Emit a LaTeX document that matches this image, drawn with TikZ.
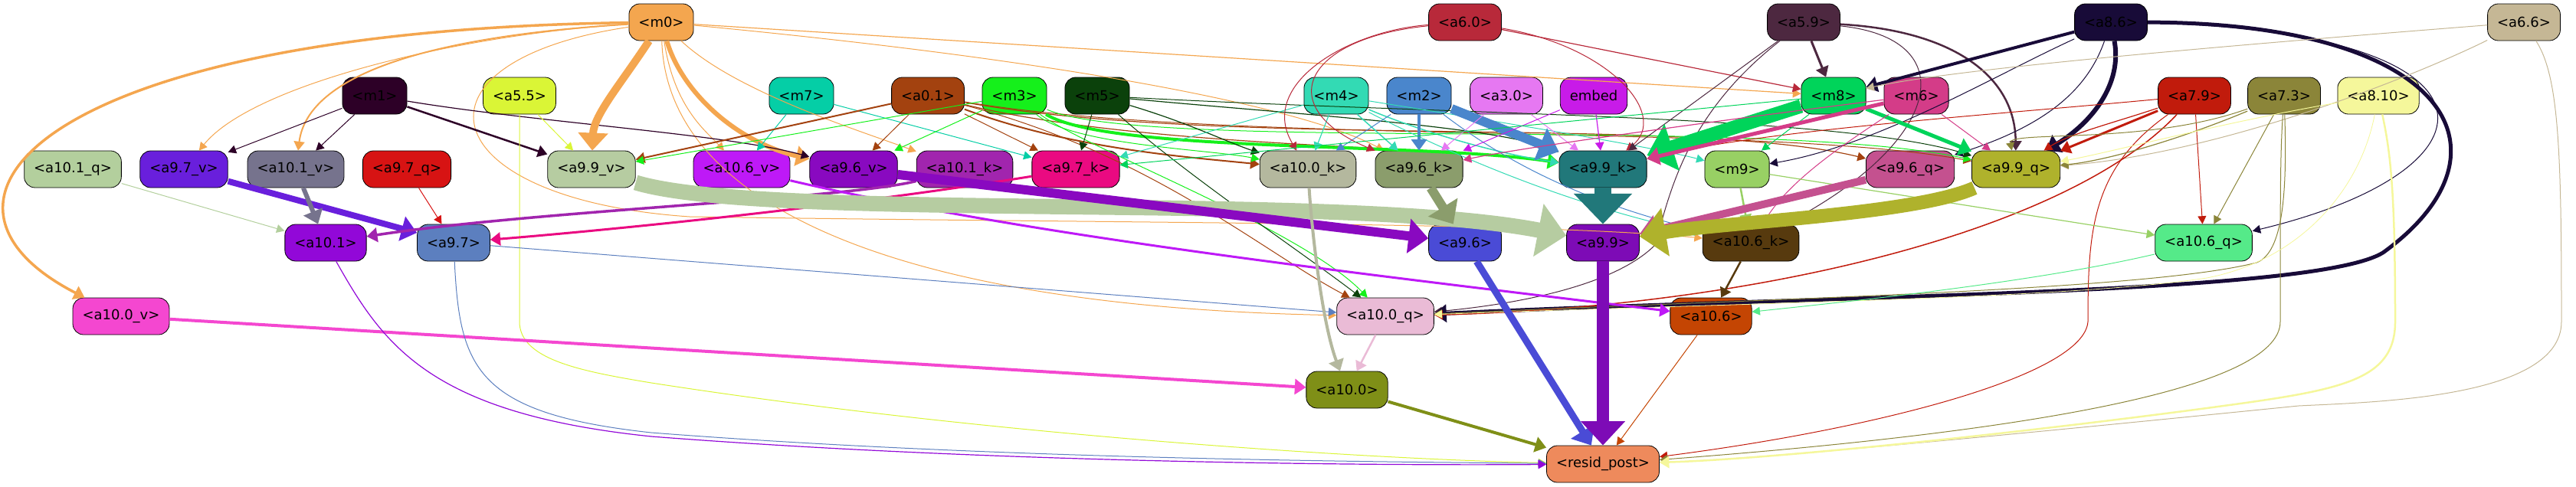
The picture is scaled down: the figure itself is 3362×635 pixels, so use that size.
\documentclass[tikz,border=0pt]{standalone}
\usepackage{fontspec}
\setmainfont{DejaVu Sans}
\usetikzlibrary{arrows.meta}
\definecolor{cm0}{HTML}{F4A64F}
\definecolor{ca60}{HTML}{B8293A}
\definecolor{ca59}{HTML}{4D2840}
\definecolor{ca86}{HTML}{180B38}
\definecolor{ca66}{HTML}{C5B795}
\definecolor{cm1}{HTML}{2D0027}
\definecolor{ca55}{HTML}{DAF536}
\definecolor{cm7}{HTML}{05CEA6}
\definecolor{ca01}{HTML}{A3420F}
\definecolor{cm3}{HTML}{15F01B}
\definecolor{cm5}{HTML}{0B410B}
\definecolor{cm4}{HTML}{33DAB4}
\definecolor{cm2}{HTML}{4A86CC}
\definecolor{ca30}{HTML}{E678F2}
\definecolor{cembed}{HTML}{C81BE8}
\definecolor{cm8}{HTML}{00D45A}
\definecolor{cm6}{HTML}{D43C88}
\definecolor{ca79}{HTML}{C11B0C}
\definecolor{ca73}{HTML}{8B8539}
\definecolor{ca810}{HTML}{F5F79B}
\definecolor{ca101q}{HTML}{B3CF9D}
\definecolor{ca97v}{HTML}{691FDC}
\definecolor{ca101v}{HTML}{76738D}
\definecolor{ca97q}{HTML}{D71313}
\definecolor{ca99v}{HTML}{B6CCA1}
\definecolor{ca106v}{HTML}{BE19F7}
\definecolor{ca96v}{HTML}{8909C0}
\definecolor{ca101k}{HTML}{A125AE}
\definecolor{ca97k}{HTML}{EA0A81}
\definecolor{ca100k}{HTML}{B4B89E}
\definecolor{ca96k}{HTML}{8B9D6C}
\definecolor{ca99k}{HTML}{21787A}
\definecolor{cm9}{HTML}{98D064}
\definecolor{ca96q}{HTML}{C4518F}
\definecolor{ca99q}{HTML}{AFB22C}
\definecolor{ca101}{HTML}{9208D8}
\definecolor{ca97}{HTML}{5C7FBF}
\definecolor{ca96}{HTML}{4A4BD6}
\definecolor{ca99}{HTML}{7D0BB6}
\definecolor{ca106k}{HTML}{573A0E}
\definecolor{ca106q}{HTML}{55EA89}
\definecolor{ca100v}{HTML}{F447D0}
\definecolor{ca100q}{HTML}{EABBD6}
\definecolor{ca106}{HTML}{C44503}
\definecolor{ca100}{HTML}{7F8F17}
\definecolor{cresid}{HTML}{EE8A5C}
\tikzset{
box/.style={draw,rectangle,rounded corners=14pt,minimum height=48pt,
inner xsep=12.5pt,inner ysep=0pt,line width=0.8pt,
font=\fontsize{18}{21}\selectfont},
lw/.style={->,line width=#1}
}
\begin{document}
\begin{tikzpicture}[x=1pt,y=-1pt,>={Triangle[length=9pt 1.4,width=8pt 3]}]
\useasboundingbox (0,0) rectangle (3362,635);

\node[box,fill=cm0](m0) at (863,29){<m0>};
\node[box,fill=ca60](a6_0) at (1912,29){<a6.0>};
\node[box,fill=ca59](a5_9) at (2354,29){<a5.9>};
\node[box,fill=ca86](a8_6) at (2755,29){<a8.6>};
\node[box,fill=ca66](a6_6) at (3294,29){<a6.6>};

\node[box,fill=cm1](m1) at (489,125){<m1>};
\node[box,fill=ca55](a5_5) at (678,125){<a5.5>};
\node[box,fill=cm7](m7) at (1046,125){<m7>};
\node[box,fill=ca01](a0_1) at (1211,125){<a0.1>};
\node[box,fill=cm3](m3) at (1324,125){<m3>};
\node[box,fill=cm5](m5) at (1432,125){<m5>};
\node[box,fill=cm4](m4) at (1744,125){<m4>};
\node[box,fill=cm2](m2) at (1852,125){<m2>};
\node[box,fill=ca30](a3_0) at (1966,125){<a3.0>};
\node[box,fill=cembed](embed) at (2080,125){embed};
\node[box,fill=cm8](m8) at (2393,125){<m8>};
\node[box,fill=cm6](m6) at (2501,125){<m6>};
\node[box,fill=ca79](a7_9) at (2864,125){<a7.9>};
\node[box,fill=ca73](a7_3) at (2981,125){<a7.3>};
\node[box,fill=ca810](a8_10) at (3104,125){<a8.10>};

\node[box,fill=ca101q](a10_1q) at (95,221){<a10.1\_q>};
\node[box,fill=ca97v](a9_7v) at (240,221){<a9.7\_v>};
\node[box,fill=ca101v](a10_1v) at (386,221){<a10.1\_v>};
\node[box,fill=ca97q](a9_7q) at (531,221){<a9.7\_q>};
\node[box,fill=ca99v](a9_9v) at (772,221){<a9.9\_v>};
\node[box,fill=ca106v](a10_6v) at (968,221){<a10.6\_v>};
\node[box,fill=ca96v](a9_6v) at (1114,221){<a9.6\_v>};
\node[box,fill=ca101k](a10_1k) at (1259,221){<a10.1\_k>};
\node[box,fill=ca97k](a9_7k) at (1404,221){<a9.7\_k>};
\node[box,fill=ca100k](a10_0k) at (1707,221){<a10.0\_k>};
\node[box,fill=ca96k](a9_6k) at (1852,221){<a9.6\_k>};
\node[box,fill=ca99k](a9_9k) at (2092,221){<a9.9\_k>};
\node[box,fill=cm9](m9) at (2267,221){<m9>};
\node[box,fill=ca96q](a9_6q) at (2493,221){<a9.6\_q>};
\node[box,fill=ca99q](a9_9q) at (2631,221){<a9.9\_q>};

\node[box,fill=ca101](a10_1) at (425,317){<a10.1>};
\node[box,fill=ca97](a9_7) at (592,317){<a9.7>};
\node[box,fill=ca96](a9_6) at (1912,317){<a9.6>};
\node[box,fill=ca99](a9_9) at (2092,317){<a9.9>};
\node[box,fill=ca106k](a10_6k) at (2285,317){<a10.6\_k>};
\node[box,fill=ca106q](a10_6q) at (2876,317){<a10.6\_q>};

\node[box,fill=ca100v](a10_0v) at (158,413){<a10.0\_v>};
\node[box,fill=ca100q](a10_0q) at (1808,413){<a10.0\_q>};
\node[box,fill=ca106](a10_6) at (2233,413){<a10.6>};

\node[box,fill=ca100](a10_0) at (1758,509){<a10.0>};

\node[box,fill=cresid](resid_post) at (2092,606){<resid\_post>};

\draw [lw=3.5pt,cm0] (m0) .. controls (60,40) and (-140,260) .. (a10_0v);
\draw [lw=1pt,cm0] (m0) .. controls (600,45) and (330,110) .. (a9_7v);
\draw [lw=2pt,cm0] (m0) .. controls (520,50) and (400,110) .. (a10_1v);
\draw [lw=6pt,cm0] (m0) .. controls (890,120) and (960,185) .. (a9_6v);
\draw [lw=1pt,cm0] (m0) .. controls (880,140) and (920,170) .. (a10_6v);
\draw [lw=1pt,cm0] (m0) .. controls (960,120) and (1120,170) .. (a10_1k);
\draw [lw=1.2pt,cm0] (m0) to (m8);
\draw [lw=1pt,cm0] (m0) .. controls (870,260) and (1150,400) .. (a10_0q);
\draw [lw=1pt,cm0] (m0) .. controls (520,80) and (560,260) .. (900,283) .. controls (1500,292) and (2000,290) .. (a10_6k);
\draw [lw=1pt,cm0] (m0) .. controls (1400,80) and (1700,140) .. (a9_6k);

\draw [lw=1pt,cm1] (m1) to (a9_7v);
\draw [lw=1pt,cm1] (m1) to (a10_1v);
\draw [lw=2.5pt,cm1] (m1) to (a9_9v);
\draw [lw=1.2pt,cm1] (m1) .. controls (700,160) and (950,175) .. (a9_6v);

\draw [lw=1pt,ca55] (a5_5) to (a9_9v);
\draw [lw=1pt,ca55] (a5_5) -- (678,420) .. controls (678,470) and (760,485) .. (850,500) .. controls (1300,570) and (1800,600) .. (resid_post);

\draw [lw=1pt,cm7] (m7) to (a10_6v);
\draw [lw=1pt,cm7] (m7) to (a9_7k);

\draw [lw=2pt,ca01] (a0_1) to (a9_9v);
\draw [lw=1pt,ca01] (a0_1) to (a9_6v);
\draw [lw=1pt,ca01] (a0_1) to (a9_7k);
\draw [lw=2pt,ca01] (a0_1) .. controls (1400,195) and (1550,205) .. (a10_0k);
\draw [lw=1.2pt,ca01] (a0_1) .. controls (1500,195) and (1900,190) .. (a9_9k);
\draw [lw=1.2pt,ca01] (a0_1) .. controls (1600,195) and (2200,150) .. (a9_6q);
\draw [lw=1pt,ca01] (a0_1) .. controls (1600,190) and (2300,160) .. (a9_9q);
\draw [lw=1pt,ca01] (a0_1) .. controls (1500,200) and (1650,330) .. (a10_0q);

\draw [lw=1pt,cm3] (m3) to (a9_6v);
\draw [lw=1pt,cm3] (m3) to (a9_9v);
\draw [lw=4pt,cm3] (m3) .. controls (1450,200) and (1850,185) .. (a9_9k);
\draw [lw=1pt,cm3] (m3) .. controls (1400,190) and (1580,195) .. (a10_0k);
\draw [lw=1pt,cm3] (m3) .. controls (1420,195) and (1700,300) .. (a10_0q);
\draw [lw=1pt,cm3] (m3) .. controls (1500,200) and (2300,150) .. (a9_9q);

\draw [lw=1pt,cm5] (m5) to (a9_7k);
\draw [lw=1.2pt,cm5] (m5) .. controls (1550,160) and (1600,185) .. (a10_0k);
\draw [lw=1pt,cm5] (m5) .. controls (1550,230) and (1700,330) .. (a10_0q);
\draw [lw=1.2pt,cm5] (m5) .. controls (1700,150) and (1950,165) .. (a9_9k);
\draw [lw=1pt,cm5] (m5) .. controls (1900,150) and (2400,150) .. (a9_9q);

\draw [lw=1.2pt,cm4] (m4) to (a10_0k);
\draw [lw=1.5pt,cm4] (m4) to (a9_6k);
\draw [lw=1pt,cm4] (m4) to (a9_7k);
\draw [lw=1.5pt,cm4] (m4) .. controls (1850,170) and (1950,200) .. (a9_9k);
\draw [lw=1pt,cm4] (m4) .. controls (1900,150) and (2150,190) .. (m9);
\draw [lw=1pt,cm4] (m4) .. controls (1950,230) and (2100,280) .. (a10_6k);

\draw [lw=4pt,cm2] (m2) to (a9_6k);
\draw [lw=12pt,cm2] (m2) to (a9_9k);
\draw [lw=1pt,cm2] (m2) to (a10_0k);
\draw [lw=1pt,cm2] (m2) .. controls (1950,200) and (2050,260) .. (a10_6k);

\draw [lw=1pt,ca30] (a3_0) to (a9_6k);
\draw [lw=1pt,ca30] (a3_0) to (a9_9k);
\draw [lw=1pt,cembed] (embed) to (a9_6k);
\draw [lw=1.2pt,cembed] (embed) to (a9_9k);

\draw [lw=1.2pt,ca60] (a6_0) to (m8);
\draw [lw=1pt,ca60] (a6_0) .. controls (2100,60) and (2180,150) .. (a9_9k);
\draw [lw=1pt,ca60] (a6_0) .. controls (1760,40) and (1640,110) .. (a10_0k);
\draw [lw=1pt,ca60] (a6_0) .. controls (1700,50) and (1660,140) .. (a9_6k);

\draw [lw=3pt,ca59] (a5_9) to (m8);
\draw [lw=2.5pt,ca59] (a5_9) .. controls (2550,40) and (2630,100) .. (a9_9q);
\draw [lw=1pt,ca59] (a5_9) to (a9_9k);
\draw [lw=1pt,ca59] (a5_9) .. controls (2560,50) and (2540,180) .. (a10_6k);
\draw [lw=1pt,ca59] (a5_9) .. controls (2200,150) and (2180,250) .. (2160,320) .. controls (2100,380) and (1950,400) .. (a10_0q);

\draw [lw=4pt,ca86] (a8_6) to (m8);
\draw [lw=6pt,ca86] (a8_6) .. controls (2770,110) and (2730,160) .. (a9_9q);
\draw [lw=1pt,ca86] (a8_6) .. controls (2720,130) and (2650,170) .. (a9_6q);
\draw [lw=1pt,ca86] (a8_6) .. controls (2600,100) and (2450,190) .. (m9);
\draw [lw=1pt,ca86] (a8_6) .. controls (3280,40) and (3280,220) .. (a10_6q);
\draw [lw=5pt,ca86] (a8_6) .. controls (3200,30) and (3290,200) .. (3110,330) .. controls (3020,385) and (2400,385) .. (a10_0q);

\draw [lw=1pt,ca66] (a6_6) .. controls (3150,100) and (2900,200) .. (a9_9q);
\draw [lw=1pt,ca66] (a6_6) .. controls (2900,60) and (2550,90) .. (m8);
\draw [lw=1pt,ca66] (a6_6) .. controls (3340,100) and (3343,200) .. (3343,420) .. controls (3343,520) and (3100,525) .. (3000,530) .. controls (2700,560) and (2300,600) .. (resid_post);

\draw [lw=3pt,ca79] (a7_9) to (a9_9q);
\draw [lw=1.2pt,ca79] (a7_9) .. controls (2760,160) and (2700,175) .. (a9_9q);
\draw [lw=1pt,ca79] (a7_9) .. controls (2600,150) and (2300,170) .. (a9_9k);
\draw [lw=1pt,ca79] (a7_9) to (a10_6q);
\draw [lw=1.5pt,ca79] (a7_9) .. controls (2700,300) and (2300,400) .. (a10_0q);
\draw [lw=1pt,ca79] (a7_9) .. controls (2730,220) and (2725,300) .. (2725,420) .. controls (2720,490) and (2450,560) .. (resid_post);

\draw [lw=1.2pt,ca73] (a7_3) .. controls (2850,180) and (2750,210) .. (a9_9q);
\draw [lw=1pt,ca73] (a7_3) .. controls (2800,190) and (2620,170) .. (a9_9q);
\draw [lw=1pt,ca73] (a7_3) to (a10_6q);
\draw [lw=1pt,ca73] (a7_3) .. controls (2976,200) and (2976,250) .. (2976,420) .. controls (2976,500) and (2700,560) .. (resid_post);
\draw [lw=1pt,ca73] (a7_3) .. controls (2985,250) and (2980,330) .. (2945,343) .. controls (2800,380) and (2300,390) .. (a10_0q);

\draw [lw=1pt,ca810] (a8_10) .. controls (2900,160) and (2750,200) .. (a9_9q);
\draw [lw=2.5pt,ca810] (a8_10) .. controls (3120,200) and (3126,250) .. (3126,420) .. controls (3126,500) and (3050,510) .. (2880,533) .. controls (2600,570) and (2300,600) .. (resid_post);
\draw [lw=0.8pt,ca810] (a8_10) .. controls (3080,250) and (3000,340) .. (2880,363) .. controls (2700,390) and (2300,395) .. (a10_0q);

\draw [lw=1pt,cm8] (m8) to (m9);
\draw [lw=1pt,cm8] (m8) to (a9_7k);
\draw [lw=5pt,cm8] (m8) to (a9_9q);
\draw [lw=18pt,cm8] (m8) to (a9_9k);

\draw [lw=1.2pt,cm6] (m6) .. controls (2300,150) and (2000,190) .. (a9_6k);
\draw [lw=1pt,cm6] (m6) to (a9_9q);
\draw [lw=1pt,cm6] (m6) .. controls (2420,180) and (2340,230) .. (a10_6k);
\draw [lw=5pt,cm6] (m6) to (a9_9k);

\draw [lw=2.5pt,cm9] (m9) to (a10_6k);
\draw [lw=1.2pt,cm9] (m9) to (a10_6q);

\draw [lw=1pt,ca101q] (a10_1q) to (a10_1);
\draw [lw=8pt,ca97v] (a9_7v) to (a9_7);
\draw [lw=6pt,ca101v] (a10_1v) to (a10_1);
\draw [lw=1pt,ca97q] (a9_7q) to (a9_7);
\draw [lw=3pt,ca97k] (a9_7k) .. controls (1100,270) and (800,300) .. (a9_7);
\draw [lw=3.5pt,ca101k] (a10_1k) .. controls (1100,260) and (700,275) .. (a10_1);
\draw [lw=3pt,ca106v] (a10_6v) .. controls (1350,310) and (1800,360) .. (a10_6);
\draw [lw=1pt,ca97] (a9_7) to (a10_0q);

\draw [lw=10pt,cm0] (m0) .. controls (810,110) and (775,150) .. (a9_9v);
\draw [lw=20pt,ca99v] (a9_9v) .. controls (1000,290) and (1750,250) .. (a9_9);
\draw [lw=12pt,ca96v] (a9_6v) to (a9_6);
\draw [lw=12pt,ca96k] (a9_6k) to (a9_6);
\draw [lw=10pt,ca96q] (a9_6q) to (a9_9);
\draw [lw=18pt,ca99q] (a9_9q) .. controls (2500,280) and (2250,290) .. (a9_9);
\draw [lw=22pt,ca99k] (a9_9k) to (a9_9);

\draw [lw=2.5pt,ca106k] (a10_6k) to (a10_6);
\draw [lw=1pt,ca106q] (a10_6q) .. controls (2650,370) and (2400,395) .. (a10_6);
\draw [lw=4pt,ca100v] (a10_0v) to (a10_0);
\draw [lw=2.5pt,ca100q] (a10_0q) to (a10_0);
\draw [lw=4pt,ca100k] (a10_0k) .. controls (1712,300) and (1725,420) .. (a10_0);

\draw [lw=1pt,ca97] (a9_7) .. controls (600,480) and (620,540) .. (850,565) .. controls (1300,600) and (1800,603) .. (resid_post);
\draw [lw=1.2pt,ca101] (a10_1) .. controls (500,450) and (560,540) .. (850,570) .. controls (1300,605) and (1800,608) .. (resid_post);
\draw [lw=4pt,ca100] (a10_0) to (resid_post);
\draw [lw=1pt,ca106] (a10_6) to (resid_post);
\draw [lw=9pt,ca96] (a9_6) to (resid_post);
\draw [lw=16pt,ca99] (a9_9) to (resid_post);
\end{tikzpicture}
\end{document}
